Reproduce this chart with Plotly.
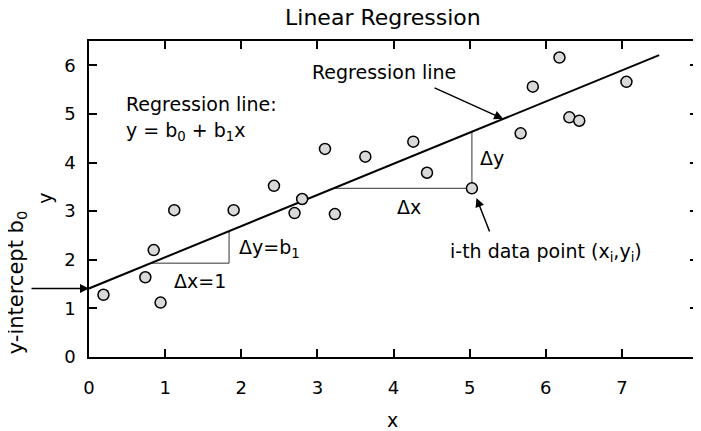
import plotly.graph_objects as go

# data points
pts_x = [0.19, 0.74, 0.85, 0.94, 1.12, 1.90, 2.43, 2.70, 2.80, 3.10, 3.23,
         3.63, 4.26, 4.44, 5.03, 5.67, 5.83, 6.18, 6.31, 6.44, 7.06]
pts_y = [1.28, 1.64, 2.20, 1.12, 3.02, 3.02, 3.52, 2.96, 3.25, 4.28, 2.94,
         4.12, 4.43, 3.79, 3.47, 4.60, 5.56, 6.16, 4.93, 4.86, 5.66]

# regression line end points
line_x = [0, 7.49]
line_y = [1.41, 6.21]

# slope triangles
small_tri_x = [0.82, 1.84, 1.84]
small_tri_y = [1.93, 1.93, 2.58]
big_tri_x = [3.22, 5.03, 5.03]
big_tri_y = [3.47, 3.47, 4.63]

x_ticks = [0, 1, 2, 3, 4, 5, 6, 7, 8]
y_ticks = [0, 1, 2, 3, 4, 5, 6]

FONT = "DejaVu Sans"

fig = go.Figure()

fig.add_trace(go.Scatter(x=small_tri_x, y=small_tri_y, mode="lines",
                         line=dict(color="#333333", width=1), hoverinfo="skip"))
fig.add_trace(go.Scatter(x=big_tri_x, y=big_tri_y, mode="lines",
                         line=dict(color="#333333", width=1), hoverinfo="skip"))
fig.add_trace(go.Scatter(x=line_x, y=line_y, mode="lines",
                         line=dict(color="black", width=2)))
fig.add_trace(go.Scatter(x=pts_x, y=pts_y, mode="markers",
                         marker=dict(size=11, color="#d9d9d9",
                                     line=dict(color="black", width=1.5))))

def txt(x, y, s, **kw):
    fig.add_annotation(x=x, y=y, text=s, showarrow=False, xanchor="left",
                       yanchor="middle", font=dict(family=FONT, size=19, color="black"), **kw)

txt(0.46, 5.20, "Regression line:")
txt(0.46, 4.63, "y = b<sub>0</sub> + b<sub>1</sub>x")
txt(2.90, 5.86, "Regression line")
txt(5.11, 4.09, "Δy")
txt(4.02, 3.09, "Δx")
txt(1.94, 2.24, "Δy=b<sub>1</sub>")
txt(1.09, 1.57, "Δx=1")
txt(4.72, 2.14, "i-th data point (x<sub>i</sub>,y<sub>i</sub>)")

arrow = dict(text="", showarrow=True, arrowhead=2, arrowsize=1.2, arrowwidth=1.5,
             arrowcolor="black", axref="x", ayref="y", standoff=0)
fig.add_annotation(x=5.44, y=4.90, ax=4.52, ay=5.55, **arrow)
fig.add_annotation(x=5.09, y=3.27, ax=5.27, ay=2.55, **arrow)
fig.add_annotation(x=0, y=1.41, ax=-0.775, ay=1.41, **arrow)

# labels outside the plot area
lab = dict(xref="paper", yref="paper", showarrow=False, xanchor="center", yanchor="middle")
fig.add_annotation(x=0.499, y=-0.198, text="x",
                   font=dict(family=FONT, size=19, color="black"), **lab)
fig.add_annotation(x=-0.072, y=0.501, text="y", textangle=-90,
                   font=dict(family=FONT, size=19, color="black"), **lab)
fig.add_annotation(x=-0.118, y=0.237, text="y-intercept b<sub>0</sub>", textangle=-90,
                   font=dict(family=FONT, size=21, color="black"), **lab)

axis = dict(showgrid=False, zeroline=False, showline=True, linecolor="black",
            linewidth=1.5, mirror="ticks", ticks="inside", ticklen=8,
            tickwidth=1.5, tickcolor="black", automargin=False,
            ticklabeloverflow="allow",
            tickfont=dict(family=FONT, size=18, color="black"))

# page body adds an 8px margin, so the figure is 8px smaller and shifted
fig.update_layout(
    width=693, height=423,
    margin=dict(l=81, r=3, t=33, b=74),
    paper_bgcolor="white", plot_bgcolor="white",
    showlegend=False,
    title=dict(text="Linear Regression", x=0.541, xref="container", xanchor="center",
               y=0.979, yref="container", yanchor="middle", automargin=False,
               font=dict(family=FONT, size=22, color="black")),
    xaxis=dict(range=[0, 8], tickvals=x_ticks, ticklabelstandoff=14, **axis),
    yaxis=dict(range=[0, 6.5], tickvals=y_ticks, ticklabelstandoff=8, **axis),
)

fig.write_html("out.html")
